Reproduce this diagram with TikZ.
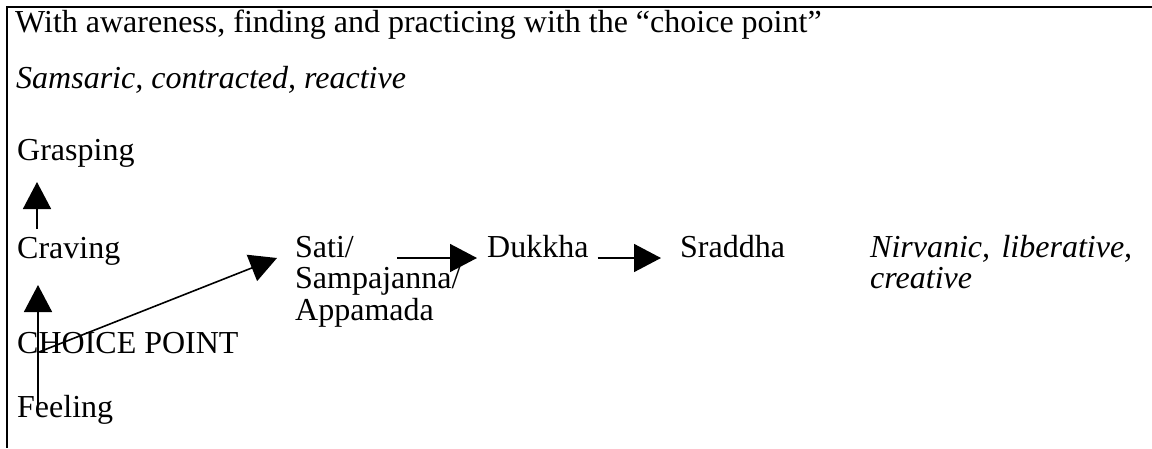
\documentclass[tikz,border=0pt]{standalone}
\usepackage{fontspec}
\setmainfont{Liberation Serif}
\usetikzlibrary{arrows.meta}

\tikzset{
  stepto/.style={line width=1.6pt,-{Triangle[length=27pt,width=28pt]}},
  frame/.style={line width=1.6pt}
}

\begin{document}
\begin{tikzpicture}
[x=1pt,y=-1pt,every node/.style={anchor=base west,inner sep=0pt,font=\fontsize{32}{31.5}\selectfont}]
\useasboundingbox (0,0) rectangle (1152,448);
\draw[frame] (1152,7) -- (7,7) -- (7,448);
\node (title) at (15,32) {With awareness, finding and practicing with the “choice point”};
\node (samsara) at (16,88) {\itshape Samsaric, contracted, reactive};
\node (grasp) at (17,160) {Grasping};
\node (crav) at (17,258) {Craving};
\node (choice) at (17,353) {CHOICE POINT};
\node (feel) at (17,417) {Feeling};
\node[text width=200pt,align=left] (sati) at (295,257) {Sati/\\Sampajanna/\\Appamada};
\node (dukkha) at (487,257) {Dukkha};
\node (sraddha) at (680,257) {Sraddha};
\node[text width=262pt,align=justify,font=\fontsize{32}{31.5}\selectfont\itshape] (nirv) at (870,257) {Nirvanic, liberative, creative};
% arrows
\draw[stepto] ([xshift=20pt,yshift=29pt]crav.base west) -- ([xshift=20pt,yshift=-22pt]grasp.base west);
\draw[stepto] ([xshift=21pt,yshift=10pt]feel.base west) -- ([xshift=21pt,yshift=-27pt]crav.base west);
\draw[stepto] ([xshift=22pt,yshift=1pt]choice.base west) -- ([xshift=-18pt,yshift=-1pt]sati.base west);
\draw[stepto] ([xshift=102pt,yshift=-1pt]sati.base west) -- ([xshift=-10pt,yshift=-1pt]dukkha.base west);
\draw[stepto] ([xshift=9pt,yshift=-1pt]dukkha.base east) -- ([xshift=-19pt,yshift=-1pt]sraddha.base west);
\end{tikzpicture}
\end{document}
